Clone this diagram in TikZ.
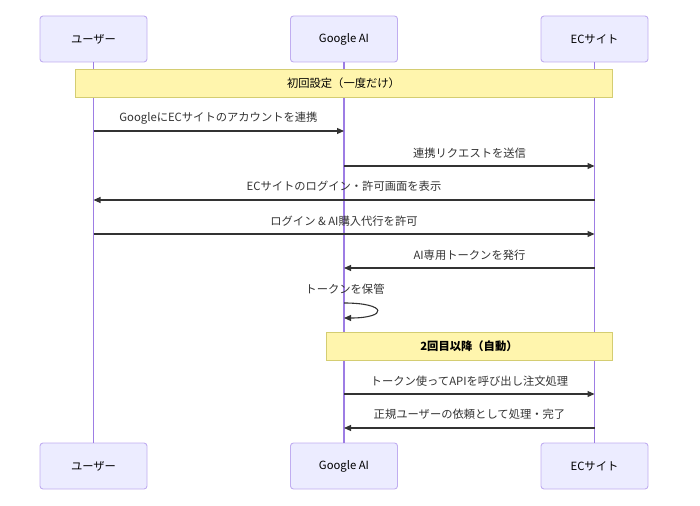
\documentclass[tikz,border=0pt]{standalone}
\usepackage{fontspec}
\setmainfont{Noto Sans CJK JP}
\usetikzlibrary{positioning, arrows.meta, calc}
\definecolor{actfill}{HTML}{ECECFF}
\definecolor{actline}{HTML}{C0ADF0}
\definecolor{lifeline}{HTML}{9D7DE4}
\definecolor{notefill}{HTML}{FFF5AD}
\definecolor{noteline}{HTML}{D4CD72}
\definecolor{msgcol}{HTML}{333333}
\tikzset{
  actor/.style={draw=actline, fill=actfill, line width=0.9pt, rounded corners=3pt, minimum width=107pt, minimum height=46pt, font=\fontsize{11.3}{13}\selectfont, text=black},
  notebox/.style={draw=noteline, fill=notefill, line width=0.9pt, minimum height=28pt, font=\fontsize{11.3}{13}\selectfont, text=black},
  msglabel/.style={font=\fontsize{11.3}{13}\selectfont, text=msgcol},
  msgarrow/.style={draw=msgcol, line width=1.1pt, -{Triangle[length=7pt, width=6pt]}},
  life/.style={draw=lifeline, line width=1.1pt}
}
\begin{document}
\begin{tikzpicture}[x=1pt, y=-1pt]
    \useasboundingbox (0,0) rectangle (700,505);
    % Teilnehmer oben und unten
    \node[actor] (userTop) at (93.5,39) {ユーザー};
    \node[actor] (aiTop) at (344,39) {Google AI};
    \node[actor] (ecTop) at (594.5,39) {ECサイト};
    \node[actor] (userBot) at (93.5,466) {ユーザー};
    \node[actor] (aiBot) at (344,466) {Google AI};
    \node[actor] (ecBot) at (594.5,466) {ECサイト};
    % Lebenslinien
    \draw[life] (userTop.south) -- (userBot.north);
    \draw[life] (aiTop.south) -- (aiBot.north);
    \draw[life] (ecTop.south) -- (ecBot.north);
    % Notiz: erste Einrichtung
    \node[notebox, minimum width=537pt] (noteFirst) at (343.5,83) {初回設定（一度だけ）};
    % Nachrichten
    \coordinate (y1) at (0,131);
    \node[msglabel] (m1) at (218.5,118) {GoogleにECサイトのアカウントを連携};
    \draw[msgarrow] (userTop |- y1) -- (aiTop |- y1);
    \coordinate (y2) at (0,166);
    \node[msglabel] (m2) at (469.5,153) {連携リクエストを送信};
    \draw[msgarrow] (aiTop |- y2) -- (ecTop |- y2);
    \coordinate (y3) at (0,200);
    \node[msglabel] (m3) at (344,186) {ECサイトのログイン・許可画面を表示};
    \draw[msgarrow] (ecTop |- y3) -- (userTop |- y3);
    \coordinate (y4) at (0,234);
    \node[msglabel] (m4) at (344,221) {ログイン \& AI購入代行を許可};
    \draw[msgarrow] (userTop |- y4) -- (ecTop |- y4);
    \coordinate (y5) at (0,268);
    \node[msglabel] (m5) at (469.5,255) {AI専用トークンを発行};
    \draw[msgarrow] (ecTop |- y5) -- (aiTop |- y5);
    % Selbstnachricht
    \coordinate (s1) at (0,303);
    \coordinate (s2) at (0,318);
    \node[msglabel] (m6) at (345,289) {トークンを保管};
    \draw[msgarrow] (aiTop |- s1) .. controls +(44,0) and +(44,0) .. (aiTop |- s2);
    % Notiz: ab dem zweiten Mal
    \node[notebox, minimum width=286pt, font=\fontsize{11.3}{13}\selectfont\bfseries] (noteAuto) at (469,346) {2回目以降（自動）};
    \coordinate (y7) at (0,394);
    \node[msglabel] (m7) at (469.5,381) {トークン使ってAPIを呼び出し注文処理};
    \draw[msgarrow] (aiTop |- y7) -- (ecTop |- y7);
    \coordinate (y8) at (0,428);
    \node[msglabel] (m8) at (469.5,414) {正規ユーザーの依頼として処理・完了};
    \draw[msgarrow] (ecTop |- y8) -- (aiTop |- y8);
\end{tikzpicture}
\end{document}
